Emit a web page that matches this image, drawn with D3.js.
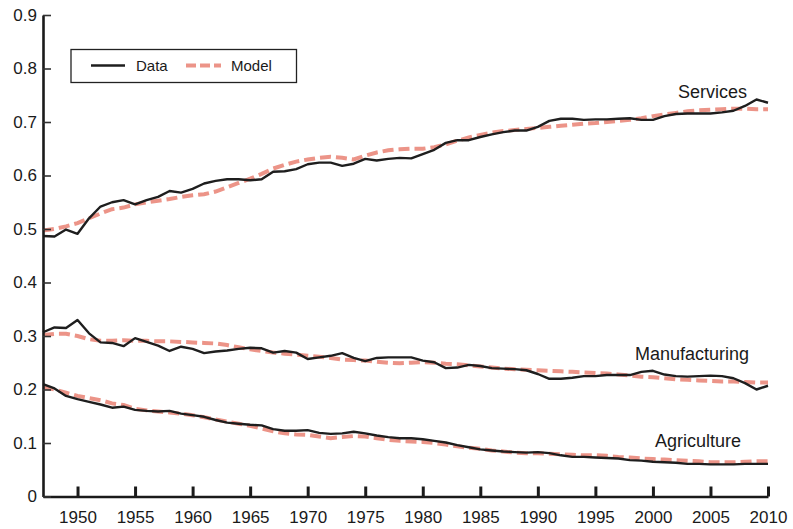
<!DOCTYPE html>
<html>
<head>
<meta charset="utf-8">
<script src="https://cdn.jsdelivr.net/npm/d3@7"></script>
<style>
  html, body { margin: 0; padding: 0; background: #fff; }
  svg { display: block; font-family: "Liberation Sans", Arial, Helvetica, sans-serif; }
</style>
</head>
<body>
<svg id="chart" width="793" height="529"></svg>
<script>
// ---- Data ----
const years = d3.range(1947, 2011);

const servicesData = [0.487,0.486,0.499,0.491,0.520,0.542,0.550,0.554,0.546,0.554,
  0.560,0.571,0.568,0.575,0.585,0.590,0.593,0.593,0.591,0.593,
  0.607,0.608,0.612,0.621,0.624,0.624,0.618,0.622,0.631,0.628,
  0.631,0.633,0.632,0.640,0.648,0.661,0.666,0.666,0.672,0.677,
  0.681,0.684,0.684,0.691,0.702,0.706,0.706,0.704,0.705,0.705,
  0.706,0.707,0.704,0.704,0.711,0.715,0.716,0.716,0.716,0.718,
  0.721,0.730,0.742,0.736];
const servicesModel = [0.497,0.500,0.505,0.511,0.520,0.529,0.537,0.540,0.546,0.550,
  0.553,0.556,0.560,0.563,0.565,0.570,0.578,0.586,0.594,0.603,
  0.613,0.620,0.626,0.630,0.633,0.635,0.633,0.630,0.637,0.643,
  0.647,0.649,0.650,0.650,0.653,0.658,0.665,0.671,0.676,0.680,
  0.683,0.685,0.687,0.689,0.691,0.693,0.695,0.697,0.698,0.700,
  0.702,0.704,0.707,0.711,0.714,0.717,0.720,0.722,0.723,0.724,
  0.725,0.725,0.724,0.724];

const manufacturingData = [0.307,0.316,0.315,0.330,0.305,0.288,0.287,0.281,0.296,0.289,
  0.282,0.272,0.280,0.276,0.268,0.271,0.273,0.276,0.278,0.277,
  0.269,0.272,0.269,0.257,0.260,0.263,0.268,0.259,0.253,0.259,
  0.260,0.260,0.260,0.254,0.251,0.240,0.241,0.246,0.244,0.240,
  0.239,0.238,0.236,0.229,0.220,0.220,0.222,0.225,0.225,0.227,
  0.227,0.227,0.233,0.235,0.228,0.225,0.224,0.225,0.226,0.225,
  0.221,0.212,0.200,0.207];
const manufacturingModel = [0.302,0.304,0.304,0.300,0.294,0.291,0.291,0.292,0.291,0.291,
  0.290,0.290,0.289,0.288,0.287,0.286,0.283,0.279,0.275,0.272,
  0.269,0.267,0.265,0.263,0.261,0.259,0.256,0.255,0.254,0.252,
  0.250,0.249,0.250,0.251,0.250,0.248,0.247,0.245,0.243,0.241,
  0.239,0.238,0.237,0.236,0.235,0.234,0.233,0.232,0.231,0.230,
  0.228,0.226,0.224,0.223,0.221,0.219,0.218,0.217,0.216,0.215,
  0.215,0.214,0.213,0.213];

const agricultureData = [0.210,0.202,0.188,0.182,0.177,0.172,0.166,0.168,0.162,0.160,
  0.159,0.160,0.155,0.152,0.149,0.143,0.138,0.136,0.134,0.133,
  0.126,0.123,0.123,0.124,0.119,0.117,0.118,0.121,0.118,0.114,
  0.111,0.109,0.109,0.107,0.104,0.101,0.096,0.092,0.088,0.086,
  0.084,0.083,0.082,0.083,0.081,0.077,0.074,0.074,0.073,0.072,
  0.071,0.068,0.067,0.065,0.064,0.063,0.061,0.061,0.060,0.060,
  0.060,0.061,0.061,0.061];
const agricultureModel = [0.204,0.200,0.194,0.188,0.184,0.180,0.174,0.171,0.164,0.161,
  0.159,0.157,0.155,0.152,0.148,0.144,0.140,0.136,0.132,0.127,
  0.122,0.118,0.116,0.115,0.112,0.109,0.111,0.113,0.112,0.109,
  0.106,0.104,0.103,0.102,0.100,0.097,0.094,0.091,0.089,0.086,
  0.084,0.082,0.081,0.081,0.080,0.079,0.078,0.077,0.077,0.076,
  0.074,0.073,0.071,0.070,0.069,0.068,0.067,0.066,0.064,0.064,
  0.064,0.065,0.066,0.066];

const sectorNames = ["Services", "Manufacturing", "Agriculture"];
const xTickValues = d3.range(1950, 2011, 5);
const yTickValues = [0, 0.1, 0.2, 0.3, 0.4, 0.5, 0.6, 0.7, 0.8, 0.9];
const legendLabels = ["Data", "Model"];

// ---- Layout ----
const svg = d3.select("#chart");
const mLeft = 43, mRight = 768, mTop = 15, mBottom = 496.5;
const dataColor = "#1e1e1e";
const modelColor = "#ec9488";

const x = d3.scaleLinear().domain([1947, 2010]).range([mLeft, mRight]);
const y = d3.scaleLinear().domain([0, 0.9]).range([mBottom, mTop]);

const line = d3.line().x(d => x(d[0])).y(d => y(d[1]));

const series = [
  { name: sectorNames[0], data: servicesData, model: servicesModel },
  { name: sectorNames[1], data: manufacturingData, model: manufacturingModel },
  { name: sectorNames[2], data: agricultureData, model: agricultureModel }
];

// Model lines (dashed) first, data lines on top
const g = svg.append("g");
series.forEach(s => {
  g.append("path")
    .attr("d", line(years.map((yr, i) => [yr, s.model[i]])))
    .attr("fill", "none")
    .attr("stroke", modelColor)
    .attr("stroke-width", 4)
    .attr("stroke-dasharray", "11,5");
});
series.forEach(s => {
  g.append("path")
    .attr("d", line(years.map((yr, i) => [yr, s.data[i]])))
    .attr("fill", "none")
    .attr("stroke", dataColor)
    .attr("stroke-width", 2.4)
    .attr("stroke-linejoin", "round");
});

// Axes
const xAxis = d3.axisBottom(x)
  .tickValues(xTickValues)
  .tickFormat(d3.format("d"))
  .tickSizeInner(-10)
  .tickSizeOuter(0)
  .tickPadding(14);
const yAxis = d3.axisLeft(y)
  .tickValues(yTickValues)
  .tickFormat(d => d === 0 ? "0" : d3.format(".1f")(d))
  .tickSizeInner(-8)
  .tickSizeOuter(0)
  .tickPadding(6);

const gx = svg.append("g").attr("transform", `translate(0,${mBottom})`).call(xAxis);
const gy = svg.append("g").attr("transform", `translate(${mLeft},0)`).call(yAxis);

[gx, gy].forEach(a => {
  a.select(".domain").attr("stroke", "#1a1a1a").attr("stroke-width", 2.6);
  a.selectAll("text").attr("fill", "#1a1a1a").style("font-size", "17px")
    .style("font-family", '"Liberation Sans", Arial, sans-serif');
});
gx.selectAll(".tick line").attr("stroke", "#1a1a1a").attr("stroke-width", 3);
gy.selectAll(".tick line").attr("stroke", "#333").attr("stroke-width", 1.6);
gy.selectAll(".tick text").attr("x", -6);

// Series labels
const labelPos = [
  { name: sectorNames[0], xr: 747, yb: 98 },
  { name: sectorNames[1], xr: 749, yb: 360 },
  { name: sectorNames[2], xr: 741, yb: 447 }
];
svg.append("g").selectAll("text").data(labelPos).join("text")
  .attr("x", d => d.xr)
  .attr("y", d => d.yb)
  .attr("text-anchor", "end")
  .attr("fill", "#1a1a1a")
  .style("font-size", "18px")
  .text(d => d.name);

// Legend
const lg = svg.append("g");
lg.append("rect")
  .attr("x", 71).attr("y", 49.5).attr("width", 225.5).attr("height", 33)
  .attr("fill", "#fff").attr("stroke", "#222").attr("stroke-width", 1.3);
lg.append("line")
  .attr("x1", 91).attr("x2", 125).attr("y1", 65.5).attr("y2", 65.5)
  .attr("stroke", dataColor).attr("stroke-width", 2.4);
lg.append("text").attr("x", 136).attr("y", 71).attr("fill", "#1a1a1a")
  .style("font-size", "15px").text(legendLabels[0]);
lg.append("line")
  .attr("x1", 186).attr("x2", 221).attr("y1", 65.5).attr("y2", 65.5)
  .attr("stroke", modelColor).attr("stroke-width", 4)
  .attr("stroke-dasharray", "10,4");
lg.append("text").attr("x", 231).attr("y", 71).attr("fill", "#1a1a1a")
  .style("font-size", "15px").text(legendLabels[1]);
</script>
</body>
</html>
